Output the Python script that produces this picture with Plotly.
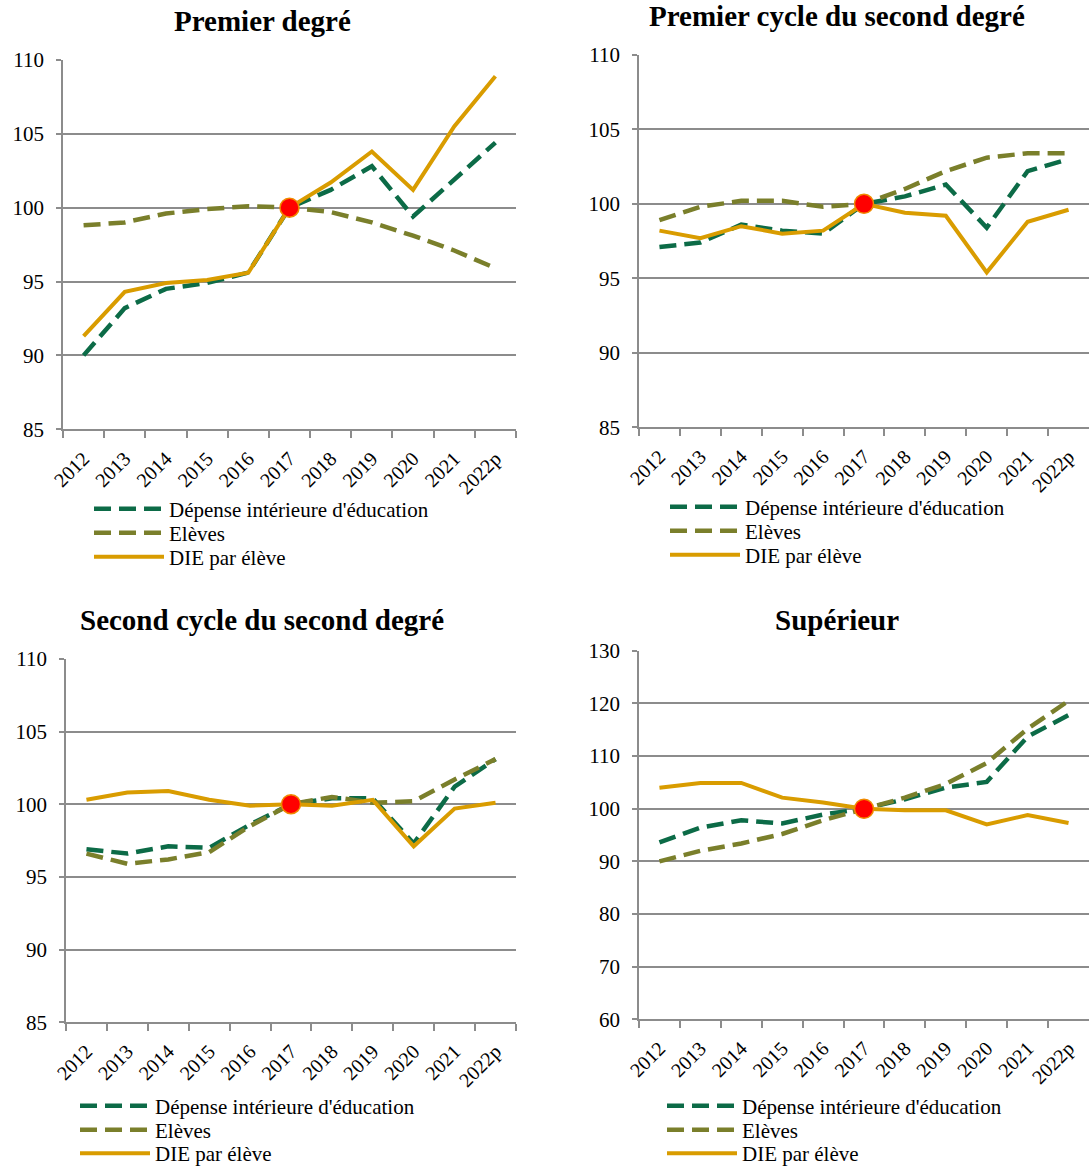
import plotly.graph_objects as go

W, H = 1089, 1174
MB = 40  # bottom margin kept free for the last legend rows

years = ['2012', '2013', '2014', '2015', '2016', '2017', '2018', '2019', '2020', '2021', '2022p']

# Premier degré
p1_die = [90.0, 93.2, 94.5, 94.9, 95.6, 100.0, 101.2, 102.8, 99.4, 101.9, 104.4]
p1_eleves = [98.8, 99.0, 99.6, 99.9, 100.1, 100.0, 99.7, 99.0, 98.1, 97.1, 95.9]
p1_par_eleve = [91.3, 94.3, 94.9, 95.1, 95.6, 100.0, 101.7, 103.8, 101.2, 105.5, 108.9]

# Premier cycle du second degré
p2_die = [97.1, 97.4, 98.6, 98.2, 98.0, 100.0, 100.5, 101.3, 98.4, 102.2, 103.0]
p2_eleves = [98.9, 99.8, 100.2, 100.2, 99.8, 100.0, 101.0, 102.2, 103.1, 103.4, 103.4]
p2_par_eleve = [98.2, 97.7, 98.5, 98.0, 98.2, 100.0, 99.4, 99.2, 95.4, 98.8, 99.6]

# Second cycle du second degré
p3_die = [96.9, 96.6, 97.1, 97.0, 98.6, 100.0, 100.4, 100.4, 97.3, 101.2, 103.1]
p3_eleves = [96.6, 95.9, 96.2, 96.7, 98.5, 100.0, 100.5, 100.1, 100.2, 101.7, 103.1]
p3_par_eleve = [100.3, 100.8, 100.9, 100.3, 99.9, 100.0, 99.9, 100.3, 97.1, 99.7, 100.1]

# Supérieur
p4_die = [93.6, 96.4, 97.8, 97.2, 98.9, 100.0, 101.8, 104.0, 105.1, 113.7, 117.8]
p4_eleves = [90.0, 92.0, 93.4, 95.2, 97.8, 100.0, 102.1, 104.7, 108.7, 115.2, 120.5]
p4_par_eleve = [104.0, 104.9, 104.9, 102.1, 101.2, 100.0, 99.7, 99.7, 97.0, 98.8, 97.3]

base_year = '2017'
base_value = 100

titles = ['Premier degré', 'Premier cycle du second degré',
          'Second cycle du second degré', 'Supérieur']
series_names = ["Dépense intérieure d'éducation", 'Elèves', 'DIE par élève']

FONT = 'Liberation Serif'
GREEN = '#0c6b47'
OLIVE = '#7a7f2b'
GOLD = '#d99c00'
GRID = '#8c8c8c'


def px_x(x):
    return x / W


def px_y(y):
    return (H - MB - y) / (H - MB)


# panel boxes in pixels: left, right, top, bottom; legend: line start x, row centres y
panels = [
    dict(box=(63, 516, 60, 430), yr=(85, 110), dt=5, title=(262, 21),
         leg_x=96, leg_y=(510, 534, 558), data=(p1_die, p1_eleves, p1_par_eleve)),
    dict(box=(639, 1089, 55, 428), yr=(85, 110), dt=5, title=(837, 16),
         leg_x=672, leg_y=(508, 532, 556), data=(p2_die, p2_eleves, p2_par_eleve)),
    dict(box=(66, 516, 660, 1024), yr=(85, 110), dt=5, title=(262, 621),
         leg_x=82, leg_y=(1108, 1132, 1156), data=(p3_die, p3_eleves, p3_par_eleve)),
    dict(box=(639, 1089, 652, 1021), yr=(60, 130), dt=10, title=(837, 621),
         leg_x=669, leg_y=(1108, 1132, 1156), data=(p4_die, p4_eleves, p4_par_eleve)),
]

line_styles = [
    dict(color=GREEN, width=4.5, dash='17px,8px'),
    dict(color=OLIVE, width=4.5, dash='17px,8px'),
    dict(color=GOLD, width=4),
]

fig = go.Figure()
annotations = []
legends = {}
leg_count = 0

for i, p in enumerate(panels):
    n = '' if i == 0 else str(i + 1)
    xa, ya = 'x' + n, 'y' + n

    for j, values in enumerate(p['data']):
        leg_count += 1
        leg = 'legend' if leg_count == 1 else 'legend' + str(leg_count)
        fig.add_trace(go.Scatter(x=years, y=values, name=series_names[j], mode='lines',
                                 line=line_styles[j], xaxis=xa, yaxis=ya, legend=leg))
        legends[leg] = dict(x=px_x(p['leg_x'] - 7), y=px_y(p['leg_y'][j]),
                            xanchor='left', yanchor='middle',
                            bgcolor='rgba(0,0,0,0)', itemwidth=70,
                            font=dict(family=FONT, size=21, color='black'))

    fig.add_trace(go.Scatter(x=[base_year], y=[base_value], mode='markers',
                             marker=dict(color='#ff0000', size=19,
                                         line=dict(color='#f08a00', width=1.5)),
                             showlegend=False, xaxis=xa, yaxis=ya))

    l, r, t, b = p['box']
    fig.update_layout({
        'xaxis' + n: dict(domain=[px_x(l), px_x(r)], anchor=ya, type='category',
                          range=[-0.5, len(years) - 0.5], tickson='boundaries',
                          ticks='outside', ticklen=7, tickcolor=GRID, tickwidth=1.5,
                          showline=True, linecolor=GRID, linewidth=1.5,
                          showgrid=False, tickangle=-45, automargin=False,
                          ticklabelstandoff=8,
                          tickfont=dict(family=FONT, size=20, color='black')),
        'yaxis' + n: dict(domain=[px_y(b), px_y(t)], anchor=xa, range=list(p['yr']),
                          dtick=p['dt'], ticks='outside', ticklen=5, tickcolor=GRID,
                          tickwidth=1.5, showline=True, linecolor=GRID, linewidth=1.5,
                          showgrid=True, gridcolor=GRID, gridwidth=1.5, zeroline=False,
                          automargin=False, ticklabelstandoff=8,
                          tickfont=dict(family=FONT, size=21, color='black')),
    })
    annotations.append(dict(text='<b>' + titles[i] + '</b>', x=px_x(p['title'][0]),
                            y=px_y(p['title'][1]), xref='paper', yref='paper',
                            showarrow=False, xanchor='center', yanchor='middle',
                            font=dict(family=FONT, size=29, color='black')))

fig.update_layout(legends)
fig.update_layout(
    width=W, height=H,
    margin=dict(l=0, r=0, t=0, b=MB),
    plot_bgcolor='white', paper_bgcolor='white',
    annotations=annotations,
    font=dict(family=FONT, color='black'),
)

fig.write_html('out.html', config={'displayModeBar': False},
               post_script="document.body.style.margin='0';document.body.style.overflow='hidden';")
